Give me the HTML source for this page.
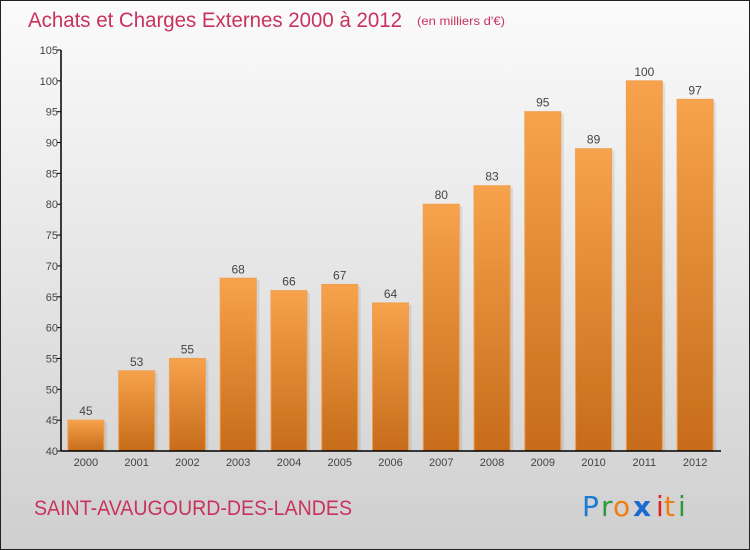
<!DOCTYPE html>
<html><head><meta charset="utf-8"><style>
body{margin:0}
#c{position:relative;width:750px;height:550px;box-sizing:border-box;border:1px solid #222;background:linear-gradient(#fbfbfb,#cfcfcf);font-family:"Liberation Sans","DejaVu Sans",sans-serif;overflow:hidden}
</style></head><body>
<div id="c">
<svg id="s" width="750" height="550" style="position:absolute;left:-1px;top:-1px">
<defs><linearGradient id="g" x1="0" y1="0" x2="0" y2="1"><stop offset="0" stop-color="#f7a24c"/><stop offset="1" stop-color="#c66c1a"/></linearGradient></defs>
<text x="28" y="27" font-size="21" fill="#c8325e" textLength="374" lengthAdjust="spacingAndGlyphs">Achats et Charges Externes 2000 à 2012</text>
<text x="417" y="25" font-size="12" fill="#c8325e" textLength="88" lengthAdjust="spacingAndGlyphs">(en milliers d'€)</text>
<text x="34" y="515" font-size="21" fill="#c8325e" textLength="318" lengthAdjust="spacingAndGlyphs">SAINT-AVAUGOURD-DES-LANDES</text>
<g font-size="28" font-family="'DejaVu Sans',sans-serif">
<text x="582" y="516" fill="#1a7ad4">P</text><text x="601" y="516" fill="#2a9a3a">r</text><text x="613" y="516" fill="#f07d10">o</text><text x="633" y="516" fill="#1a6ad0" font-weight="bold">x</text><text x="656" y="516" fill="#e02020">i</text><text x="664" y="516" fill="#f07d10">t</text><text x="678" y="516" fill="#2a9a3a">i</text></g>
</svg>
</div>
<script>
const years=["2000","2001","2002","2003","2004","2005","2006","2007","2008","2009","2010","2011","2012"];
const values=[45,53,55,68,66,67,64,80,83,95,89,100,97];
const yTicks=[40,45,50,55,60,65,70,75,80,85,90,95,100,105];
const s=document.getElementById('s');const NS='http://www.w3.org/2000/svg';
const x0=61,x1=721,yTop=50,yBot=451,vMin=40,vMax=105;
const y=v=>yBot-(v-vMin)/(vMax-vMin)*(yBot-yTop);
const step=(x1-x0)/years.length;
const xc=i=>x0+step*(i+0.5)-0.5;
function mk(t,a){const e=document.createElementNS(NS,t);for(const k in a)e.setAttribute(k,a[k]);s.appendChild(e);return e;}
values.forEach((v,i)=>{
 const sh=mk('rect',{x:xc(i)-18+3,y:y(v)+2,width:36,height:yBot-y(v)-2,fill:'#000','fill-opacity':0.08});
 
 
 const r=mk('rect',{x:xc(i)-18,y:y(v),width:36,height:yBot-y(v),fill:'url(#g)',stroke:'#f0a050','stroke-width':1});
 
 
 const t=mk('text',{x:xc(i),y:y(v)-5,'font-size':12,fill:'#444','text-anchor':'middle'});t.textContent=v;
 
 
 const xl=mk('text',{x:xc(i),y:466,'font-size':11,fill:'#444','text-anchor':'middle'});xl.textContent=years[i];
 
 
});
yTicks.forEach(v=>{
 const l=mk('line',{x1:x0-4,x2:x0,y1:y(v),y2:y(v),stroke:'#000'});
 
 
 const t=mk('text',{x:x0-3,y:y(v)+4,'font-size':11,fill:'#444','text-anchor':'end'});t.textContent=v;
 
 
});
const ya=mk('line',{x1:x0,x2:x0,y1:yTop,y2:yBot,stroke:'#000','stroke-width':1.5});


const xa=mk('line',{x1:x0,x2:x1,y1:yBot,y2:yBot,stroke:'#000','stroke-width':1.5});


</script>
</body></html>
